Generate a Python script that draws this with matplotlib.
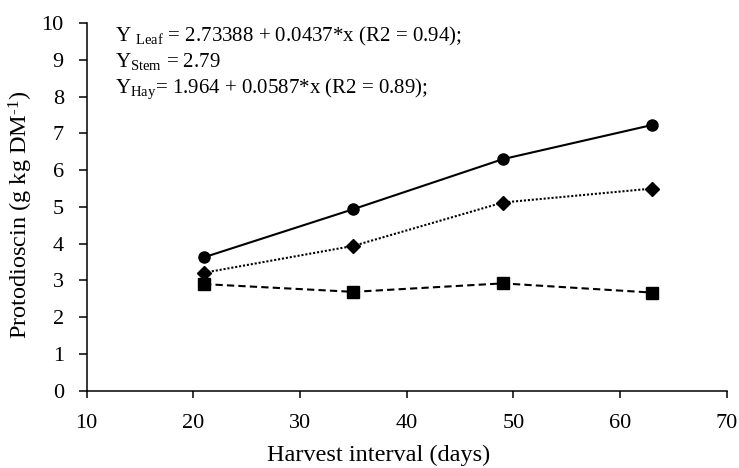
import matplotlib
matplotlib.use("Agg")
import matplotlib.pyplot as plt

FONT = 'Liberation Serif'
plt.rcParams['font.family'] = [FONT, 'DejaVu Serif']
plt.rcParams['mathtext.fontset'] = 'custom'
plt.rcParams['mathtext.rm'] = FONT
plt.rcParams['mathtext.it'] = FONT + ':italic'

days = [21, 35, 49, 63]
leaf = [3.63, 4.94, 6.30, 7.23]
hay = [3.21, 3.94, 5.12, 5.50]
stem = [2.90, 2.69, 2.92, 2.67]
xticks = [10, 20, 30, 40, 50, 60, 70]
yticks = list(range(0, 11))

W, H = 739, 468
fig = plt.figure(figsize=(W / 100, H / 100), dpi=100)
ax = fig.add_axes([0.1173, 0.1652, 0.8661, 0.7852])

ax.plot(days, leaf, color='black', linestyle='-', linewidth=1.5, marker='o', markersize=8)
ax.plot(days, hay, color='black', linestyle=(0, (1, 0.9)), linewidth=1.5, marker='D', markersize=7.5)
ax.plot(days, stem, color='black', linestyle=(0, (3.5, 2)), linewidth=1.5, marker='s', markersize=8)

ax.set_xlim(10, 70)
ax.set_ylim(0, 10)
ax.set_xticks(xticks)
ax.set_yticks(yticks)
for s in ['top', 'right']:
    ax.spines[s].set_visible(False)
for s in ['left', 'bottom']:
    ax.spines[s].set_linewidth(1.1)
tfs = 16
ax.tick_params(axis='y', direction='out', length=5.5, width=1.1, labelsize=tfs, pad=11)
ax.tick_params(axis='x', direction='out', length=5, width=1.1, labelsize=tfs, pad=12)

lfs = 17.5
fig.text(379 / W, 1 - 455 / H, 'Harvest interval (days)', fontsize=lfs, ha='center', va='center')
fig.text(21 / W, 1 - 215 / H, 'Protodioscin (g kg DM$^{\\mathrm{\u2010}1}$)', fontsize=lfs,
         ha='center', va='center', rotation=90)

afs = 15
ax.text(0.044, 0.9516, 'Y $_{\\mathrm{Leaf}}$ = 2.73388 + 0.0437*x (R2 = 0.94);', transform=ax.transAxes,
        fontsize=afs, va='baseline', ha='left')
ax.text(0.044, 0.8808, 'Y$_{\\mathrm{Stem}}$ = 2.79', transform=ax.transAxes,
        fontsize=afs, va='baseline', ha='left')
ax.text(0.044, 0.810, 'Y$_{\\mathrm{Hay}}$= 1.964 + 0.0587*x (R2 = 0.89);', transform=ax.transAxes,
        fontsize=afs, va='baseline', ha='left')

fig.savefig('out.png', dpi=100)
